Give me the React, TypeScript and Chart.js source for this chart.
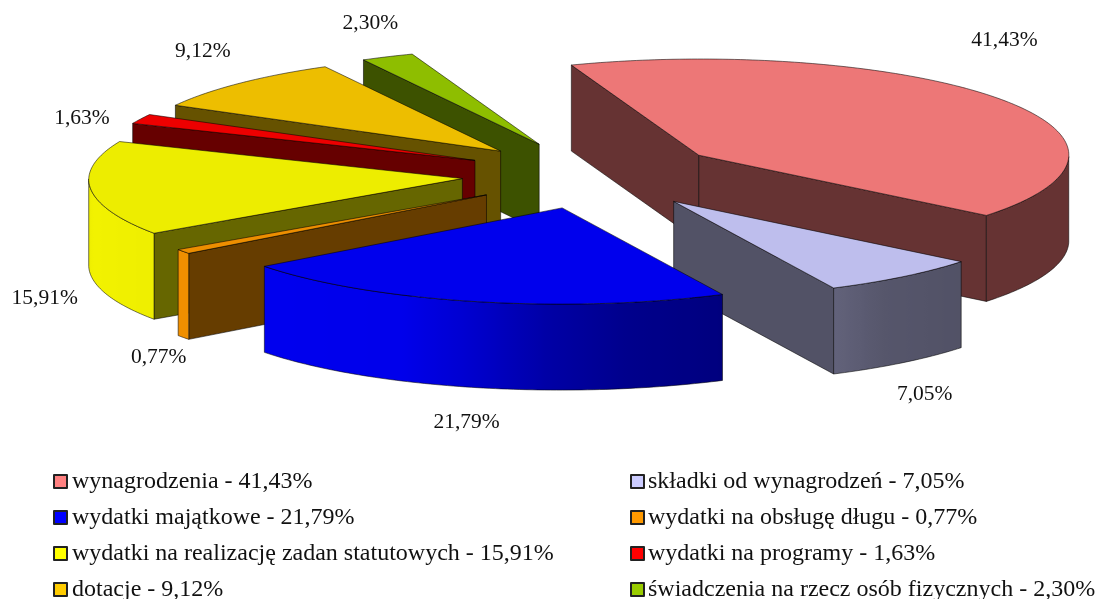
import React, { useEffect, useRef } from "react";
import { Chart, registerables } from "chart.js";

Chart.register(...registerables);

const categories = [
  "wynagrodzenia",
  "składki od wynagrodzeń",
  "wydatki majątkowe",
  "wydatki na obsługę długu",
  "wydatki na realizację zadan statutowych",
  "wydatki na programy",
  "dotacje",
  "świadczenia na rzecz osób fizycznych",
];
const values = [41.43, 7.05, 21.79, 0.77, 15.91, 1.63, 9.12, 2.3];
const baseColors = ["#FF8080", "#CCCCFF", "#0000FF", "#FF9900", "#FFFF00", "#FF0000", "#FFCC00", "#99CC00"];
const labelNudges = [[5, -59], [19, 118], [-12, 121], [-31, 106], [-52, 110], [-61, -1], [-37, -32], [-16, -33]];

const TILT = 0.26;
const DEPTH = 86;
const TOP_SHADE = 0.93;
const SIDE_SHADE = 0.4;
const FONT = '"Liberation Serif"';
const wallStops = [
  [0, 0.4], [39, 0.4], [55, 0.42], [64, 0.48], [65, 0.5], [80, 0.55], [92, 0.65], [105, 0.82],
  [115, 0.92], [170, 0.95], [180, 0.92], [205, 0.85], [360, 0.4],
];

const fmt = (v: number) => v.toFixed(2).replace(".", ",") + "%";

function shade(hex: string, f: number) {
  const n = parseInt(hex.slice(1), 16);
  const c = [(n >> 16) & 255, (n >> 8) & 255, n & 255].map((x) => Math.round(x * f));
  return `rgb(${c[0]},${c[1]},${c[2]})`;
}

function wallBrightness(a: number) {
  const d = (((a * 180) / Math.PI) % 360 + 360) % 360;
  for (let i = 1; i < wallStops.length; i++) {
    if (d <= wallStops[i][0]) {
      const [a0, b0] = wallStops[i - 1];
      const [a1, b1] = wallStops[i];
      return b0 + ((b1 - b0) * (d - a0)) / (a1 - a0);
    }
  }
  return 0.4;
}

// slight perspective of the reference: the near-left side of the pie drifts outward
function warpX(x: number, y: number) {
  const near = Math.min(1, Math.max(0, (y - 60) / 120));
  return x - 0.017 * (y - 120) + 0.01 * Math.min(0, x - 600) * near;
}

const pie3d = {
  id: "pie3d",
  beforeDatasetsDraw(chart: any) {
    const ctx = chart.ctx;
    const meta = chart.getDatasetMeta(0);
    const colors = chart.data.datasets[0].baseColors;
    const slices = meta.data.map((arc: any, i: number) => {
      const p = arc.getProps(["x", "y", "startAngle", "endAngle", "outerRadius"], true);
      const mid = (p.startAngle + p.endAngle) / 2;
      const off = arc.options.offset;
      return { i, ...p, mid, off, ax: p.x + off * Math.cos(mid), ay: p.y + off * TILT * Math.sin(mid) };
    });
    const order = [...slices].sort((a: any, b: any) => Math.sin(a.mid) - Math.sin(b.mid));
    ctx.save();
    ctx.lineJoin = "round";
    ctx.lineWidth = 0.9;
    ctx.strokeStyle = "rgba(0,0,0,0.6)";
    for (const s of order) {
      const base = colors[s.i];
      const pt = (a: number, dz = 0) => {
        const x = s.ax + s.outerRadius * Math.cos(a);
        const y = s.ay + TILT * s.outerRadius * Math.sin(a);
        return [warpX(x, y), y + dz];
      };
      const apexX = warpX(s.ax, s.ay);
      const radial = (a: number) => {
        const q = pt(a);
        ctx.beginPath();
        ctx.moveTo(apexX, s.ay);
        ctx.lineTo(q[0], q[1]);
        ctx.lineTo(q[0], q[1] + DEPTH);
        ctx.lineTo(apexX, s.ay + DEPTH);
        ctx.closePath();
        ctx.fillStyle = shade(base, SIDE_SHADE);
        ctx.fill();
        ctx.stroke();
      };
      if (Math.cos(s.startAngle) < 0) radial(s.startAngle);
      if (Math.cos(s.endAngle) > 0) radial(s.endAngle);

      const steps = Math.max(8, Math.ceil((s.endAngle - s.startAngle) * 60));
      const rim: number[] = [];
      for (let k = 0; k <= steps; k++) {
        const a = s.startAngle + ((s.endAngle - s.startAngle) * k) / steps;
        if (Math.sin(a) >= 0) rim.push(a);
      }
      if (rim.length > 1) {
        const xs = rim.map((a) => pt(a)[0]);
        const x0 = Math.min(...xs);
        const x1 = Math.max(...xs);
        const g = ctx.createLinearGradient(x0, 0, x1, 0);
        rim.forEach((a) => {
          const t = (pt(a)[0] - x0) / Math.max(1, x1 - x0);
          g.addColorStop(Math.min(1, Math.max(0, t)), shade(base, wallBrightness(a)));
        });
        ctx.beginPath();
        rim.forEach((a, k) => {
          const q = pt(a);
          if (k === 0) ctx.moveTo(q[0], q[1]);
          else ctx.lineTo(q[0], q[1]);
        });
        [...rim].reverse().forEach((a) => {
          const q = pt(a, DEPTH);
          ctx.lineTo(q[0], q[1]);
        });
        ctx.closePath();
        ctx.fillStyle = g;
        ctx.fill();
        ctx.stroke();
      }

      ctx.beginPath();
      ctx.moveTo(apexX, s.ay);
      for (let k = 0; k <= steps; k++) {
        const q = pt(s.startAngle + ((s.endAngle - s.startAngle) * k) / steps);
        ctx.lineTo(q[0], q[1]);
      }
      ctx.closePath();
      ctx.fillStyle = shade(base, TOP_SHADE);
      ctx.fill();
      ctx.stroke();
    }

    ctx.fillStyle = "#111";
    ctx.font = `21.5px ${FONT}`;
    ctx.textAlign = "center";
    ctx.textBaseline = "middle";
    for (const s of slices) {
      const r = s.off + s.outerRadius;
      const [nx, ny] = labelNudges[s.i];
      ctx.fillText(
        fmt(values[s.i]),
        s.x + r * Math.cos(s.mid) + nx,
        s.y + TILT * r * Math.sin(s.mid) + ny,
      );
    }

    ctx.textAlign = "left";
    ctx.font = `24px ${FONT}`;
    categories.forEach((name, i) => {
      const col = i % 2;
      const row = Math.floor(i / 2);
      const x = col === 0 ? 54 : 631;
      const y = 481 + row * 36;
      ctx.fillStyle = baseColors[i];
      ctx.fillRect(x, y - 6, 13, 13);
      ctx.lineWidth = 2;
      ctx.strokeStyle = "#222";
      ctx.strokeRect(x, y - 6, 13, 13);
      ctx.fillStyle = "#111";
      ctx.fillText(`${name} - ${fmt(values[i])}`, x + (col === 0 ? 18 : 17), y + 1);
    });
    ctx.restore();
    return false;
  },
};

export default function App() {
  const ref = useRef<HTMLCanvasElement>(null);
  useEffect(() => {
    const chart = new Chart(ref.current!, {
      type: "pie",
      data: {
        labels: categories,
        datasets: [
          {
            data: values,
            backgroundColor: baseColors,
            baseColors,
            offset: 130,
            borderWidth: 0,
          } as any,
        ],
      },
      options: {
        animation: false,
        responsive: false,
        events: [],
        rotation: -20.4,
        radius: 370,
        layout: { padding: { left: 90, right: 0, top: 0, bottom: 249 } },
        plugins: { legend: { display: false }, tooltip: { enabled: false } },
      } as any,
      plugins: [pie3d],
    });
    return () => chart.destroy();
  }, []);
  return (
    <canvas
      ref={ref}
      width={1098}
      height={599}
      style={{ position: "fixed", left: 0, top: 0, width: 1098, height: 599 }}
    />
  );
}
